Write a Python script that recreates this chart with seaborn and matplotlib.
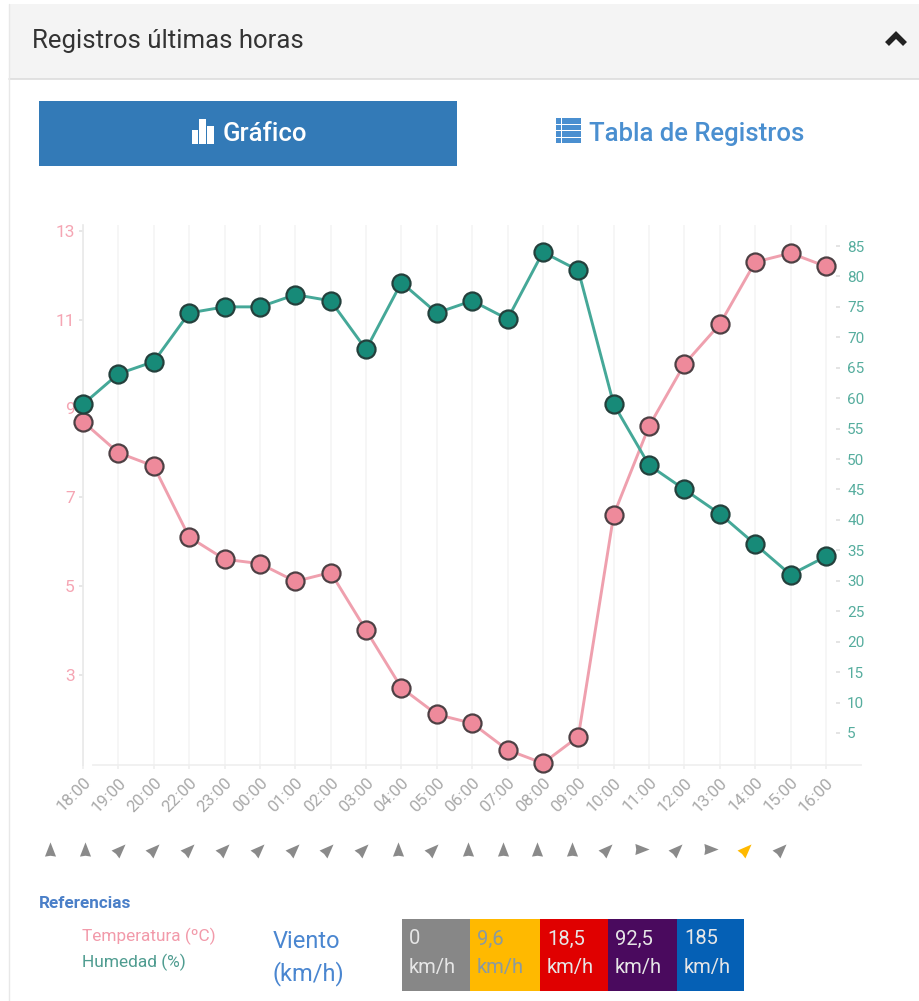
import matplotlib
matplotlib.use("Agg")
import matplotlib.pyplot as plt
import seaborn as sns
import pandas as pd
from matplotlib.markers import MarkerStyle
from matplotlib.patches import Rectangle
from matplotlib.path import Path
from matplotlib.transforms import Affine2D

hours = ["18:00","19:00","20:00","22:00","23:00","00:00","01:00","02:00","03:00","04:00","05:00",
         "06:00","07:00","08:00","09:00","10:00","11:00","12:00","13:00","14:00","15:00","16:00"]
temperature = [8.7,8.0,7.7,6.1,5.6,5.5,5.1,5.3,4.0,2.7,2.1,1.9,1.3,1.0,1.6,6.6,8.6,10.0,10.9,12.3,12.5,12.2]
humidity = [59,64,66,74,75,75,77,76,68,79,74,76,73,84,81,59,49,45,41,36,31,34]
wind_rot = [0,0,315,315,315,315,315,315,315,315,0,315,0,0,0,0,315,270,315,270,315,315]
wind_level = [0,0,0,0,0,0,0,0,0,0,0,0,0,0,0,0,0,0,0,0,1,0]
temp_ticks = [3,5,7,9,11,13]
hum_ticks = list(range(5,90,5))
legend_vals = ["0","9,6","18,5","92,5","185"]
legend_cols = ["#878787","#ffb900","#e00000","#4a0a5e","#0560b5"]
wind_cols = ["#8a8a8a","#ffb900"]

W,H = 920,1001
PINK,TEAL="#ee8a9b","#178a78"
sns.set_theme(style="white")
plt.rcParams['font.family']=['Roboto','DejaVu Sans']
fig=plt.figure(figsize=(W/100,H/100),dpi=100)

# page layer in pixel coordinates
bg=fig.add_axes([0,0,1,1]); bg.set_xlim(0,W); bg.set_ylim(H,0); bg.axis("off")
bg.add_patch(Rectangle((9,4),911,75,fc="#f4f4f4",ec="none"))
bg.plot([9,920],[79,79],color="#dddddd",lw=1.2)
bg.plot([9,9],[4,1001],color="#e8e8e8",lw=1)
bg.text(32,41,"Registros últimas horas",fontsize=18.5,color="#333333",va="center")
bg.plot([887,896,905],[44,35,44],color="#222222",lw=4,solid_capstyle="butt",solid_joinstyle="miter")
bg.add_patch(Rectangle((39,101),418,65,fc="#337ab7",ec="none"))
for x,w,top in [(192,6,130),(199.5,6.5,119),(207.5,6.5,126)]:
    bg.add_patch(Rectangle((x,top),w,143.5-top,fc="white",ec="none"))
bg.text(223,134,"Gráfico",fontsize=18.5,color="white",va="center",fontweight="medium")
for y in [118,124.5,131,137.5]:
    bg.add_patch(Rectangle((556,y),25,5.5,fc="#4a8fd0",ec="none"))
bg.add_patch(Rectangle((561,118),1.2,25,fc="white",ec="none"))
bg.text(589,134,"Tabla de Registros",fontsize=18.5,color="#4a8fd0",va="center",fontweight="medium")
bg.text(39,904,"Referencias",fontsize=12.3,color="#4a7fc8",va="center",fontweight="bold")
bg.text(82,936,"Temperatura (ºC)",fontsize=12.4,color="#f29aaa",va="center")
bg.text(82,962,"Humedad (%)",fontsize=12.5,color="#4f9c90",va="center")
bg.text(273,942,"Viento",fontsize=17,color="#4a86d0",va="center")
bg.text(273,974,"(km/h)",fontsize=17,color="#4a86d0",va="center")
edges=[402,470,540,608,677,744]
for i,(v,c) in enumerate(zip(legend_vals,legend_cols)):
    bg.add_patch(Rectangle((edges[i],919),edges[i+1]-edges[i],72,fc=c,ec="none"))
    tc="#8a9aa0" if i==1 else "#e6e6e6"
    bg.text(edges[i]+7,939,v,fontsize=14.5,color=tc,va="center")
    bg.text(edges[i]+7,968,"km/h",fontsize=14.5,color=tc,va="center")

# chart
L,R,T,B=83,861,225,765
ax=fig.add_axes([L/W,1-B/H,(R-L)/W,(B-T)/H])
ax.patch.set_alpha(0)
df=pd.DataFrame({"x":range(len(hours)),"t":temperature,"h":humidity})
sns.lineplot(data=df,x="x",y="t",ax=ax,color="#efa0ae",lw=2.1,marker="o",ms=13,mfc=PINK,mec="#4d4044",mew=1.6,zorder=3)
ax.set_xlim(0,(R-L)/35.38); ax.set_ylim(0.96,13.135)
ax.set_xticks(range(len(hours))); ax.set_xticklabels(hours,rotation=45,ha="right",rotation_mode="anchor",fontsize=12,color="#a8a8a8")
ax.set_yticks(temp_ticks); ax.set_yticklabels(temp_ticks,fontsize=12.5,color="#f5a5b3")
ax.set_xlabel("");ax.set_ylabel("")
ax.grid(axis="x",color="#f4f4f4",lw=1.1)
ax.tick_params(axis="x",length=3,color="#f0f0f0",pad=4,bottom=True)
ax.tick_params(axis="y",length=3,color="#e4e4e4",pad=3,direction="out",left=True)
for s in ["top","right"]: ax.spines[s].set_visible(False)
ax.spines["left"].set_color("#eaeaea")
ax.spines["bottom"].set_color("#efefef")
ax.spines["bottom"].set_bounds(0.28,(R-L)/35.38)

ax2=ax.twinx(); ax2.patch.set_alpha(0)
sns.lineplot(data=df,x="x",y="h",ax=ax2,color="#45a898",lw=2.1,marker="o",ms=13,mfc=TEAL,mec="#24403c",mew=1.6,zorder=4)
ax2.set_ylim(-0.26,88.45); ax2.set_yticks(hum_ticks); ax2.set_yticklabels(hum_ticks,fontsize=13)
ax2.set_ylabel("");ax2.grid(False)
for s in ["top","left","bottom"]: ax2.spines[s].set_visible(False)
ax2.spines["right"].set_position(("outward",-(R-836)*0.72))
ax2.spines["right"].set_visible(True)
ax2.spines["right"].set_color("none")
ax2.yaxis.set_ticks_position("right")
ax2.tick_params(axis="y",right=True,left=False,labelright=True,labelleft=False,length=3,color="#e0e0e0",labelcolor="#56ad9e",pad=5,direction="out")
for line in ax.get_lines()+ax2.get_lines():
    line.set_clip_on(False)

# wind arrows on their own row, one per hour
wa=fig.add_axes([50/W,1-869/H,(781-50)/W,40/H]); wa.axis("off")
arrow=Path([(0,1),(0.78,-1),(0,-0.88),(-0.78,-1),(0,1)],closed=True)
for i,(rot,lev) in enumerate(zip(wind_rot,wind_level)):
    m=MarkerStyle(arrow,transform=Affine2D().rotate_deg(rot))
    sns.scatterplot(x=[i],y=[0.5],ax=wa,marker=m,s=105,color=wind_cols[lev],linewidth=0,clip_on=False,legend=False)
wa.set_xlim(0,len(hours)-1); wa.set_ylim(0,1); wa.axis("off")
fig.savefig("out.png",dpi=100)
